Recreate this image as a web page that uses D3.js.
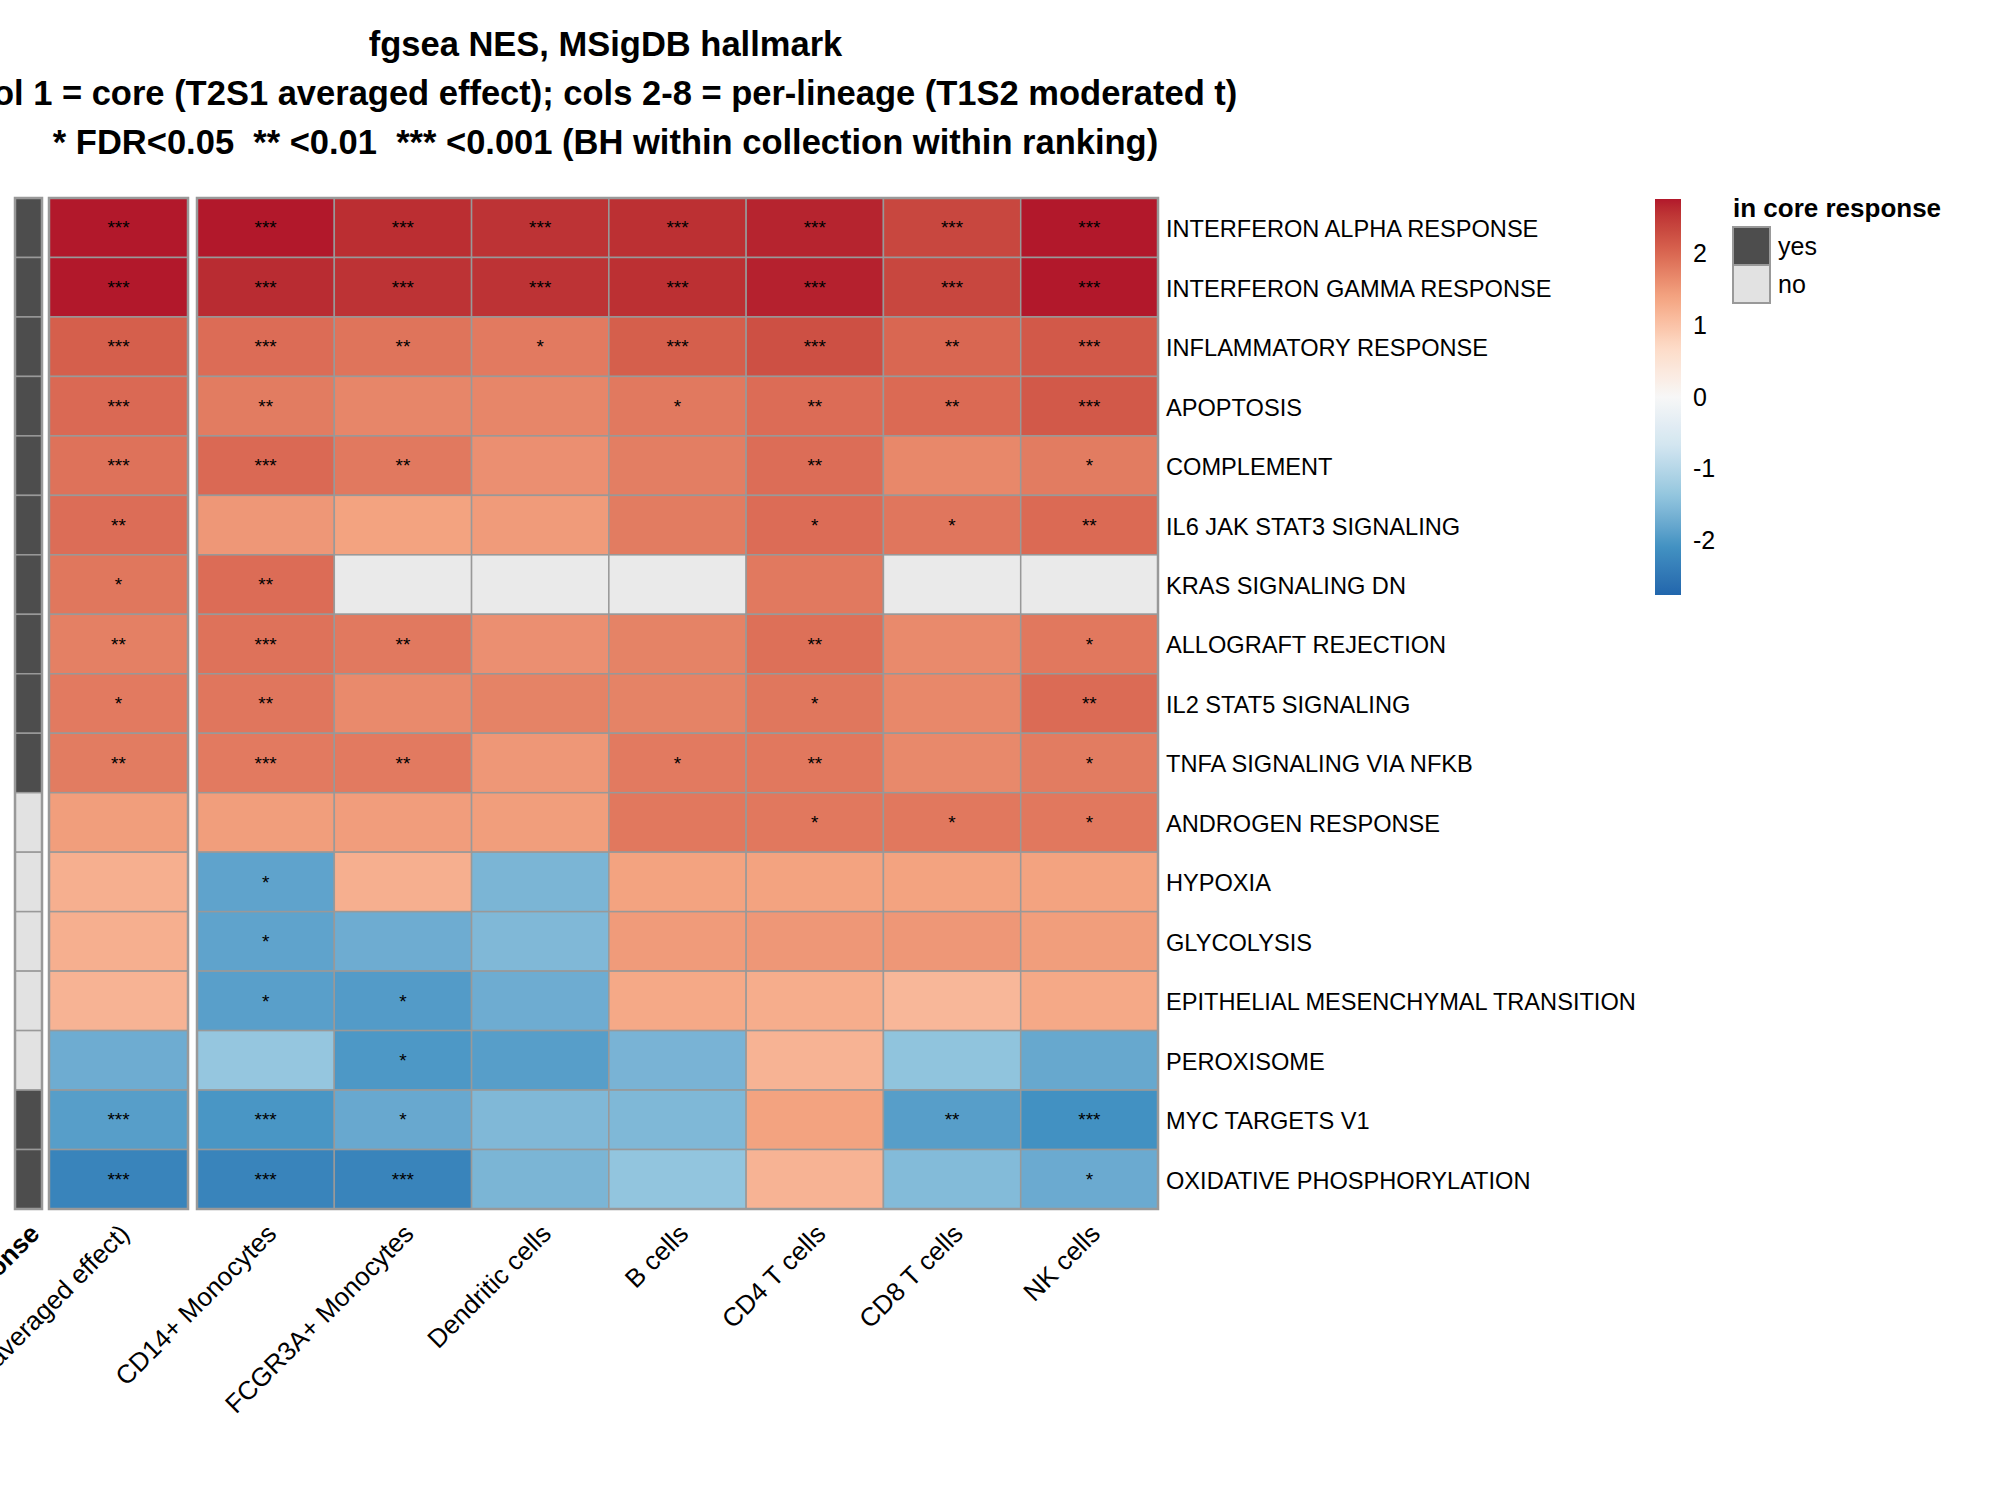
<!DOCTYPE html>
<html>
<head>
<meta charset="utf-8">
<style>
body { margin: 0; background: #fff; }
svg { display: block; font-family: "Liberation Sans", Arial, Helvetica, sans-serif; }
</style>
</head>
<body>
<svg width="2000" height="1500"></svg>
<script src="https://d3js.org/d3.v7.min.js"></script>
<script>

// hallmark sets, top to bottom
var pathways = ["INTERFERON ALPHA RESPONSE", "INTERFERON GAMMA RESPONSE", "INFLAMMATORY RESPONSE",
  "APOPTOSIS", "COMPLEMENT", "IL6 JAK STAT3 SIGNALING", "KRAS SIGNALING DN", "ALLOGRAFT REJECTION",
  "IL2 STAT5 SIGNALING", "TNFA SIGNALING VIA NFKB", "ANDROGEN RESPONSE", "HYPOXIA", "GLYCOLYSIS",
  "EPITHELIAL MESENCHYMAL TRANSITION", "PEROXISOME", "MYC TARGETS V1", "OXIDATIVE PHOSPHORYLATION"];

var inCore = ["yes", "yes", "yes", "yes", "yes", "yes", "yes", "yes", "yes", "yes",
  "no", "no", "no", "no", "no", "yes", "yes"];

var coreColumn = "core (T2S1 averaged effect)";
var lineages = ["CD14+ Monocytes", "FCGR3A+ Monocytes", "Dendritic cells", "B cells",
  "CD4 T cells", "CD8 T cells", "NK cells"];

// NES per column (null = not tested)
var nesCore   = [2.9, 2.85, 2.08, 1.98, 1.9, 1.94, 1.85, 1.76, 1.82, 1.8, 1.45, 1.25, 1.25, 1.2, -1.72, -1.92, -2.3];
var nesCD14   = [2.8, 2.62, 1.95, 1.8, 1.98, 1.52, 1.95, 1.9, 1.86, 1.82, 1.45, -1.85, -1.85, -1.9, -1.35, -2.03, -2.3];
var nesFCGR3A = [2.6, 2.55, 1.88, 1.7, 1.83, 1.4, null, 1.83, 1.66, 1.82, 1.46, 1.25, -1.72, -1.95, -2.0, -1.77, -2.3];
var nesDC     = [2.55, 2.55, 1.82, 1.7, 1.6, 1.48, null, 1.6, 1.73, 1.52, 1.45, -1.6, -1.55, -1.72, -1.92, -1.55, -1.6];
var nesB      = [2.58, 2.58, 2.08, 1.83, 1.78, 1.8, null, 1.73, 1.73, 1.82, 1.84, 1.4, 1.48, 1.33, -1.62, -1.56, -1.38];
var nesCD4    = [2.68, 2.7, 2.25, 1.95, 1.94, 1.95, 1.83, 1.92, 1.85, 1.84, 1.84, 1.4, 1.52, 1.28, 1.2, 1.4, 1.2];
var nesCD8    = [2.35, 2.35, 2.0, 1.97, 1.68, 1.86, null, 1.66, 1.68, 1.67, 1.84, 1.4, 1.52, 1.15, -1.4, -1.92, -1.52];
var nesNK     = [2.8, 2.8, 2.15, 2.15, 1.8, 1.97, null, 1.84, 1.96, 1.8, 1.84, 1.4, 1.45, 1.33, -1.78, -2.1, -1.75];

// significance stars per column
var sigCore   = ["***", "***", "***", "***", "***", "**", "*", "**", "*", "**", "", "", "", "", "", "***", "***"];
var sigCD14   = ["***", "***", "***", "**", "***", "", "**", "***", "**", "***", "", "*", "*", "*", "", "***", "***"];
var sigFCGR3A = ["***", "***", "**", "", "**", "", "", "**", "", "**", "", "", "", "*", "*", "*", "***"];
var sigDC     = ["***", "***", "*", "", "", "", "", "", "", "", "", "", "", "", "", "", ""];
var sigB      = ["***", "***", "***", "*", "", "", "", "", "", "*", "", "", "", "", "", "", ""];
var sigCD4    = ["***", "***", "***", "**", "**", "*", "", "**", "*", "**", "*", "", "", "", "", "", ""];
var sigCD8    = ["***", "***", "**", "**", "", "*", "", "", "", "", "*", "", "", "", "", "**", ""];
var sigNK     = ["***", "***", "***", "***", "*", "**", "", "*", "**", "*", "*", "", "", "", "", "***", "*"];

var legendTicks = [2, 1, 0, -1, -2];
var titleLines = ["fgsea NES, MSigDB hallmark",
  "col 1 = core (T2S1 averaged effect); cols 2-8 = per-lineage (T1S2 moderated t)",
  "* FDR<0.05  ** <0.01  *** <0.001 (BH within collection within ranking)"];

var lineageNES = [nesCD14, nesFCGR3A, nesDC, nesB, nesCD4, nesCD8, nesNK];
var lineageSig = [sigCD14, sigFCGR3A, sigDC, sigB, sigCD4, sigCD8, sigNK];

var svg = d3.select("svg");

var hmTop = 198, hmBottom = 1209;
var y = d3.scaleBand().domain(pathways).range([hmTop, hmBottom]);
var xAnno = d3.scaleBand().domain(["in core response"]).range([15, 42]);
var xCore = d3.scaleBand().domain([coreColumn]).range([49, 188]);
var xLin = d3.scaleBand().domain(lineages).range([197, 1158]);

var lim = 2.76;
var rdbu = ["#2166AC", "#4393C3", "#92C5DE", "#D1E5F0", "#F7F7F7", "#FDDBC7", "#F4A582", "#D6604D", "#B2182B"];
var color = d3.scaleLinear()
    .domain(d3.range(9).map(function(i) { return -lim + i * lim / 4; }))
    .range(rdbu)
    .interpolate(d3.interpolateLab)
    .clamp(true);
var annoColor = d3.scaleOrdinal().domain(["yes", "no"]).range(["#4D4D4D", "#E2E2E2"]);
var naColor = "#EAEAEA";
var gridCol = "#999999";

// cells as flat list
var cells = [];
pathways.forEach(function(p, i) {
  cells.push({row: p, x: xCore(coreColumn), w: xCore.bandwidth(), v: nesCore[i], s: sigCore[i]});
  lineages.forEach(function(l, j) {
    cells.push({row: p, x: xLin(l), w: xLin.bandwidth(), v: lineageNES[j][i], s: lineageSig[j][i]});
  });
});

var g = svg.append("g");

// annotation column
g.selectAll("rect.anno")
  .data(pathways)
  .enter().append("rect")
    .attr("class", "anno")
    .attr("x", xAnno("in core response"))
    .attr("y", function(d) { return y(d); })
    .attr("width", xAnno.bandwidth())
    .attr("height", y.bandwidth())
    .attr("fill", function(d, i) { return annoColor(inCore[i]); })
    .attr("stroke", gridCol)
    .attr("stroke-width", 1.5);

g.selectAll("rect.cell")
  .data(cells)
  .enter().append("rect")
    .attr("class", "cell")
    .attr("x", function(d) { return d.x; })
    .attr("y", function(d) { return y(d.row); })
    .attr("width", function(d) { return d.w; })
    .attr("height", y.bandwidth())
    .attr("fill", function(d) { return d.v == null ? naColor : color(d.v); })
    .attr("stroke", gridCol)
    .attr("stroke-width", 1.5);

// outer borders
[xAnno.range(), xCore.range(), xLin.range()].forEach(function(r) {
  g.append("rect")
    .attr("x", r[0]).attr("y", hmTop)
    .attr("width", r[1] - r[0]).attr("height", hmBottom - hmTop)
    .attr("fill", "none").attr("stroke", gridCol).attr("stroke-width", 2.5);
});

g.selectAll("text.sig")
  .data(cells.filter(function(d) { return d.s; }))
  .enter().append("text")
    .attr("class", "sig")
    .attr("x", function(d) { return d.x + d.w / 2; })
    .attr("y", function(d) { return y(d.row) + y.bandwidth() / 2; })
    .attr("dy", "0.35em")
    .attr("text-anchor", "middle")
    .attr("font-size", 19)
    .text(function(d) { return d.s; });

// row labels
g.selectAll("text.rowlab")
  .data(pathways)
  .enter().append("text")
    .attr("class", "rowlab")
    .attr("x", xLin.range()[1] + 8)
    .attr("y", function(d) { return y(d) + y.bandwidth() / 2; })
    .attr("dy", "0.4em")
    .attr("font-size", 23.6)
    .text(function(d) { return d; });

// column labels, rotated 45
var colLabs = [{name: "in core response", cx: xAnno("in core response") + xAnno.bandwidth() / 2, bold: true},
  {name: coreColumn, cx: xCore(coreColumn) + xCore.bandwidth() / 2}]
  .concat(lineages.map(function(l) { return {name: l, cx: xLin(l) + xLin.bandwidth() / 2}; }));

g.selectAll("text.collab")
  .data(colLabs)
  .enter().append("text")
    .attr("class", "collab")
    .attr("transform", function(d) { return "translate(" + (d.cx + 6) + "," + (hmBottom + 20) + ") rotate(-45)"; })
    .attr("text-anchor", "end")
    .attr("dominant-baseline", "central")
    .attr("font-size", 26)
    .attr("font-weight", function(d) { return d.bold ? "bold" : "normal"; })
    .text(function(d) { return d.name; });

// title
var titleX = (xCore.range()[0] + xLin.range()[1]) / 2 + 2;
svg.append("g").selectAll("text")
  .data(titleLines)
  .enter().append("text")
    .attr("x", titleX)
    .attr("y", function(d, i) { return 56 + i * 49; })
    .attr("text-anchor", "middle")
    .attr("font-size", 34.5)
    .attr("font-weight", "bold")
    .style("white-space", "pre")
    .text(function(d) { return d; });

// colour legend
var legY = d3.scaleLinear().domain([lim, -lim]).range([199, 595]);
var defs = svg.append("defs");
var grad = defs.append("linearGradient")
    .attr("id", "nesgrad")
    .attr("x1", 0).attr("y1", 0).attr("x2", 0).attr("y2", 1);
grad.selectAll("stop")
  .data(d3.range(0, 1.0001, 0.02))
  .enter().append("stop")
    .attr("offset", function(d) { return d; })
    .attr("stop-color", function(d) { return color(lim - d * 2 * lim); });

var leg = svg.append("g");
leg.append("rect")
    .attr("x", 1655).attr("y", legY(lim))
    .attr("width", 26).attr("height", legY(-lim) - legY(lim))
    .attr("fill", "url(#nesgrad)");
leg.selectAll("text")
  .data(legendTicks)
  .enter().append("text")
    .attr("x", 1693)
    .attr("y", function(d) { return legY(d); })
    .attr("dy", "0.35em")
    .attr("font-size", 25)
    .text(function(d) { return d < 0 ? "-" + Math.abs(d) : d; });

// annotation legend
var aleg = svg.append("g");
aleg.append("text")
    .attr("x", 1733).attr("y", 217)
    .attr("font-size", 26)
    .attr("font-weight", "bold")
    .text("in core response");
var ay = d3.scaleBand().domain(annoColor.domain()).range([227, 303]);
aleg.selectAll("rect")
  .data(annoColor.domain())
  .enter().append("rect")
    .attr("x", 1733).attr("y", function(d) { return ay(d); })
    .attr("width", 37).attr("height", ay.bandwidth())
    .attr("fill", annoColor)
    .attr("stroke", gridCol).attr("stroke-width", 2);
aleg.selectAll("text.lab")
  .data(annoColor.domain())
  .enter().append("text")
    .attr("class", "lab")
    .attr("x", 1778)
    .attr("y", function(d) { return ay(d) + ay.bandwidth() / 2; })
    .attr("dy", "0.35em")
    .attr("font-size", 25)
    .text(function(d) { return d; });

</script>
</body>
</html>
